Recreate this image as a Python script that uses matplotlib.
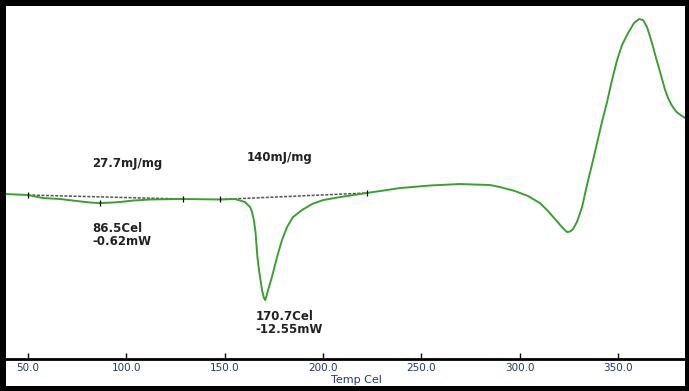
import matplotlib
matplotlib.use('Agg')
import matplotlib.pyplot as plt
from matplotlib.patches import Rectangle

# DSC curve, temperature (Cel) vs heat flow (mW)
temp = [39.0, 50.0, 57.8, 66.4, 75.0, 81.7, 86.7, 93.3, 96.9, 103.5,
        112.1, 128.9, 147.7, 155.3, 160.4, 163.0, 164.0, 165.0, 165.75, 166.26,
        166.77, 167.53, 168.29, 169.05, 170.07, 170.7, 171.34, 172.1, 174.1, 176.7,
        179.2, 181.8, 184.8, 189.4, 194.5, 200.1, 208.7, 222.4, 239.2, 254.4,
        269.6, 284.9, 290.0, 297.6, 304.2, 310.3, 314.4, 317.9, 321.0, 323.0,
        324.0, 325.6, 327.1, 329.1, 331.7, 334.2, 336.8, 339.3, 341.8, 344.4,
        346.9, 349.5, 352.0, 355.1, 358.1, 360.7, 362.7, 364.7, 366.8, 369.3,
        371.9, 373.9, 375.4, 376.9, 378.5, 380.0, 382.1, 384.1]
heat_flow = [0.49, 0.37, 0.0, -0.12, -0.37, -0.55, -0.62, -0.55, -0.49, -0.31,
             -0.18, -0.12, -0.18, -0.12, -0.49, -1.11, -1.72, -2.83, -4.18, -5.78,
             -7.38, -8.86, -10.09, -11.32, -12.30, -12.55, -12.05, -11.32, -9.72, -7.26,
             -5.17, -3.57, -2.34, -1.48, -0.74, -0.25, 0.12, 0.62, 1.23, 1.54,
             1.72, 1.60, 1.35, 0.86, 0.25, -0.62, -1.60, -2.58, -3.44, -3.94,
             -4.18, -4.12, -3.81, -2.95, -1.11, 1.60, 4.18, 6.77, 9.35, 11.81,
             14.51, 16.97, 18.82, 20.30, 21.53, 22.02, 21.89, 21.03, 19.43, 17.22,
             15.01, 13.28, 12.30, 11.56, 10.95, 10.52, 10.15, 9.84]

# integration baselines
base1_t = [50.0, 128.9]
base1_y = [0.37, -0.12]
base2_t = [147.7, 222.4]
base2_y = [-0.18, 0.62]

# marker points
mark_t = [50.0, 86.7, 128.9, 147.7, 222.4]
mark_y = [0.37, -0.62, -0.12, -0.18, 0.62]

xticks = [50, 100, 150, 200, 250, 300, 350]
xticklabels = ['50.0', '100.0', '150.0', '200.0', '250.0', '300.0', '350.0']

fig = plt.figure(figsize=(6.89, 3.91), dpi=100, facecolor='black')
W, H = 689, 391

# white panel inside the black frame
fig.patches.append(Rectangle((6 / W, 5 / H), (685 - 6) / W, (391 - 5 - 6) / H,
                             transform=fig.transFigure, facecolor='white',
                             edgecolor='none', zorder=-1))

ax = fig.add_axes([6 / W, 1 - 359 / H, (685 - 6) / W, (359 - 6) / H])
ax.set_zorder(2)
ax.set_facecolor('white')

ax.plot(base1_t, base1_y, color='#555555', lw=1.1, ls=(0, (2, 1)))
ax.plot(base2_t, base2_y, color='#555555', lw=1.1, ls=(0, (2, 1)))
ax.plot(temp, heat_flow, color='#3c9f32', lw=1.4)
ax.plot(mark_t, mark_y, ls='none', marker='|', ms=5, mew=0.9, color='black')

txt = dict(fontsize=8.5, fontweight='bold', color='#222222', family='DejaVu Sans')
ax.text(82.7, 4.3, '27.7mJ/mg', va='center', ha='left', **txt)
ax.text(161.5, 5.0, '140mJ/mg', va='center', ha='left', **txt)
ax.text(82.7, -3.0, '86.5Cel\n-0.62mW', va='top', ha='left', linespacing=0.95, **txt)
ax.text(165.6, -13.8, '170.7Cel\n-12.55mW', va='top', ha='left', linespacing=0.95, **txt)

ax.set_xlim(38.97, 384.0)
ax.set_ylim(-19.8, 23.62)
ax.set_xticks(xticks)
ax.set_xticklabels(xticklabels)
ax.set_yticks([])
for s in ['top', 'left', 'right']:
    ax.spines[s].set_visible(False)
ax.spines['bottom'].set_linewidth(2)
ax.tick_params(axis='x', direction='in', length=4, width=1, pad=3,
               labelsize=7.5, labelcolor='#1f3a7a')

fig.text(356 / W, 1 - 380 / H, 'Temp Cel', ha='center', va='center',
         fontsize=8, color='#1f3a7a')

fig.savefig('out.png', dpi=100, facecolor='black')
